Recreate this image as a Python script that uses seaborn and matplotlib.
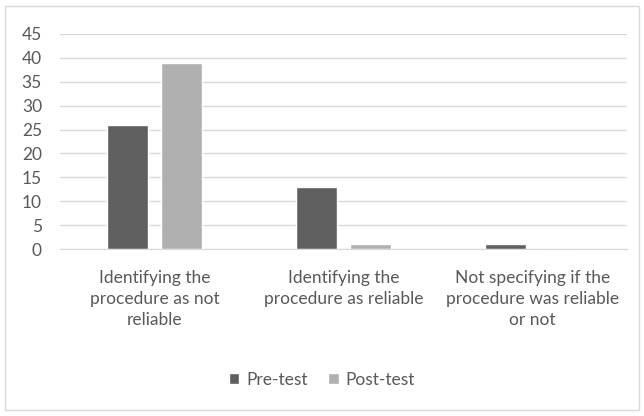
import pandas as pd
import seaborn as sns
import matplotlib.pyplot as plt

# chart values
categories = ["Identifying the\nprocedure as not\nreliable",
              "Identifying the\nprocedure as reliable",
              "Not specifying if the\nprocedure was reliable\nor not"]
pre_test = [26, 13, 1]
post_test = [39, 1, 0]
series = ["Pre-test", "Post-test"]

df = pd.DataFrame({
    "category": categories * 2,
    "value": pre_test + post_test,
    "test": [series[0]] * 3 + [series[1]] * 3,
})

sns.set_style("white")
plt.rcParams["font.family"] = ["Lato", "DejaVu Sans"]

fig = plt.figure(figsize=(6.44, 4.16), dpi=100)
ax = fig.add_axes([60 / 644, 1 - 249 / 416, 567 / 644, 215 / 416])

sns.barplot(data=df, x="category", y="value", hue="test",
            palette=["#5f5f5f", "#b0b0b0"], width=0.571, gap=0.23,
            saturation=1, ax=ax, legend=True)

ax.set_ylim(0, 45)
ax.set_yticks(range(0, 46, 5))
ax.set_xlim(-0.5, 2.5)
ax.yaxis.grid(True, color="#d9d9d9", linewidth=1)
ax.set_axisbelow(True)
for s in ["top", "right", "left"]:
    ax.spines[s].set_visible(False)
ax.spines["bottom"].set_color("#d9d9d9")
ax.set_xlabel("")
ax.set_ylabel("")
ax.tick_params(axis="both", length=0, colors="#595959", labelsize=12.5)
ax.tick_params(axis="y", pad=13)
ax.tick_params(axis="x", pad=15)
for lbl in ax.get_xticklabels():
    lbl.set_linespacing(1.4)

ax.legend(loc="center", bbox_to_anchor=(0.5, (416 - 380) / 416),
          bbox_transform=fig.transFigure, ncol=2, frameon=False,
          fontsize=12.5, labelcolor="#595959", handlelength=0.6,
          handleheight=0.6, handletextpad=0.4, columnspacing=1.2)

# outer chart border
fig.patches.append(plt.Rectangle((5 / 644, 6 / 416), 634 / 644, 404 / 416,
                                 transform=fig.transFigure, fill=False,
                                 edgecolor="#d9d9d9", linewidth=1))

fig.savefig("out.png", dpi=100)
